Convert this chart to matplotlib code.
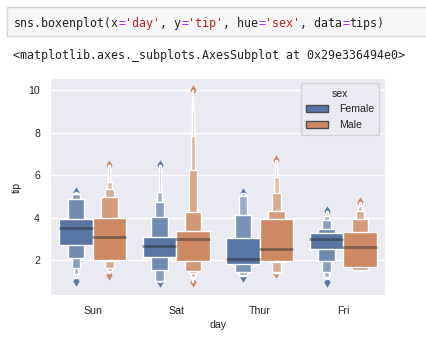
import matplotlib
matplotlib.use('Agg')
import matplotlib.pyplot as plt
import matplotlib.colors as mcolors
from matplotlib.patches import Rectangle, Patch

plt.rcParams['font.family'] = ['Liberation Sans', 'DejaVu Sans']

days = ['Sun', 'Sat', 'Thur', 'Fri']
sexes = ['Female', 'Male']

# letter-value boxes for each day, innermost box first
female_lo = [[2.71, 2.09, 1.65, 1.34, 1.15],
             [2.14, 1.54, 1.04, 1.02, 1.0],
             [1.83, 1.47, 1.31, 1.27],
             [2.52, 1.97, 1.46, 1.23, 1.1]]
female_hi = [[3.93, 4.87, 5.12, 5.17, 5.2],
             [3.08, 4.02, 4.76, 5.23, 6.5],
             [3.03, 4.13, 5.03, 5.17],
             [3.27, 3.46, 3.9, 4.08, 4.3]]
female_med = [3.5, 2.65, 2.05, 3.0]
female_out = [[5.2, 1.01], [6.5, 1.0], [5.17, 1.2], [4.3, 1.0]]

male_lo = [[2.01, 1.98, 1.62, 1.51, 1.40],
           [1.98, 1.51, 1.39, 1.23, 1.1, 1.0],
           [1.98, 1.91, 1.46, 1.42, 1.40],
           [1.67, 1.54, 1.52, 1.51, 1.5]]
male_hi = [[3.98, 4.99, 5.34, 5.70, 6.5],
           [3.39, 4.29, 6.25, 7.85, 9.07, 10.0],
           [3.96, 4.33, 5.15, 5.91, 6.7],
           [3.35, 3.93, 4.32, 4.56, 4.73]]
male_med = [3.1, 3.0, 2.53, 2.62]
male_out = [[6.5, 1.32], [10.0, 1.0], [6.7, 1.38], [4.73]]

colors = {'Female': '#5875a4', 'Male': '#cc8963'}

W, H = 426, 343
fig = plt.figure(figsize=(W / 100, H / 100), dpi=100)
fig.patch.set_facecolor('white')

# notebook cell on top
fig.patches.append(Rectangle((7 / W, 1 - 36 / H), 1, 29 / H, transform=fig.transFigure,
                             facecolor='#f7f7f7', edgecolor='#d4d4d4', lw=1))
plain, op, string = '#222222', '#aa22ff', '#ba2121'
code = [('sns.boxenplot(x', plain), ('=', op), ("'day'", string), (', y', plain),
        ('=', op), ("'tip'", string), (', hue', plain), ('=', op), ("'sex'", string),
        (', data', plain), ('=', op), ('tips)', plain)]
cw = 7.0
pos = 13.3
for txt, c in code:
    fig.text(pos / W, 1 - 27 / H, txt, color=c, family='DejaVu Sans Mono',
             fontsize=8.37, va='baseline', ha='left')
    pos += cw * len(txt)
fig.text(13.3 / W, 1 - 59.5 / H, '<matplotlib.axes._subplots.AxesSubplot at 0x29e336494e0>',
         color=plain, family='DejaVu Sans Mono', fontsize=8.37, va='baseline', ha='left')

ax = fig.add_axes([51 / W, 1 - 295 / H, 334 / W, 216 / H])
ax.set_facecolor('#eaeaf2')
for s in ax.spines.values():
    s.set_visible(False)
ax.set_axisbelow(True)
ax.grid(axis='y', color='white', lw=1)


def lighten(c, t):
    rgb = mcolors.to_rgb(c)
    return tuple(v + (1 - v) * t for v in rgb)


def draw_boxen(x, lo, hi, med, out, color, width=0.4):
    n = len(lo)
    # narrow outer boxes first so the wide inner ones sit on top
    for i in range(n - 1, -1, -1):
        w = width * 0.5 ** i
        t = 0.6 * i / (n - 1)
        ax.add_patch(Rectangle((x - w / 2, lo[i]), w, hi[i] - lo[i],
                               facecolor=lighten(color, t), edgecolor='white',
                               lw=1, zorder=3 + (n - i) * 0.01))
    ax.plot([x - width / 2 - 0.01, x + width / 2], [med, med], color='.15', alpha=.45,
            lw=2, zorder=4, solid_capstyle='butt')
    ax.scatter([x] * len(out), out, marker='d', color=color, s=28, zorder=2.9, linewidths=0)


for j, day in enumerate(days):
    draw_boxen(j - 0.2, female_lo[j], female_hi[j], female_med[j], female_out[j], colors['Female'])
    draw_boxen(j + 0.2, male_lo[j], male_hi[j], male_med[j], male_out[j], colors['Male'])

ax.set_xlim(-0.5, 3.5)
ax.set_ylim(0.367, 10.53)
ax.set_xticks(range(len(days)))
ax.set_xticklabels(days)
ax.set_yticks([2, 4, 6, 8, 10])
ax.tick_params(length=0, labelsize=7.6, colors='.15')
ax.tick_params(axis='y', pad=7.9)
ax.tick_params(axis='x', pad=7.6)
ax.set_xlabel('day', fontsize=7.6, color='.15', labelpad=3)
ax.set_ylabel('tip', fontsize=7.6, color='.15', labelpad=5)

handles = [Patch(facecolor=colors[s], edgecolor='.3', lw=1) for s in sexes]
leg = ax.legend(handles, sexes, title='sex', loc='upper right',
                bbox_to_anchor=(1 - 5.7 / 334, 1 - 4.3 / 216), borderaxespad=0,
                fontsize=7.6, title_fontsize=7.6, handlelength=2.1, handleheight=0.7,
                handletextpad=1.0, labelspacing=0.55, borderpad=0.5,
                frameon=True, facecolor='#eaeaf2', edgecolor='#cccccc', framealpha=0.8)
for t in leg.get_texts():
    t.set_color('.15')
leg.get_title().set_color('.15')

fig.savefig('out.png', dpi=100)
